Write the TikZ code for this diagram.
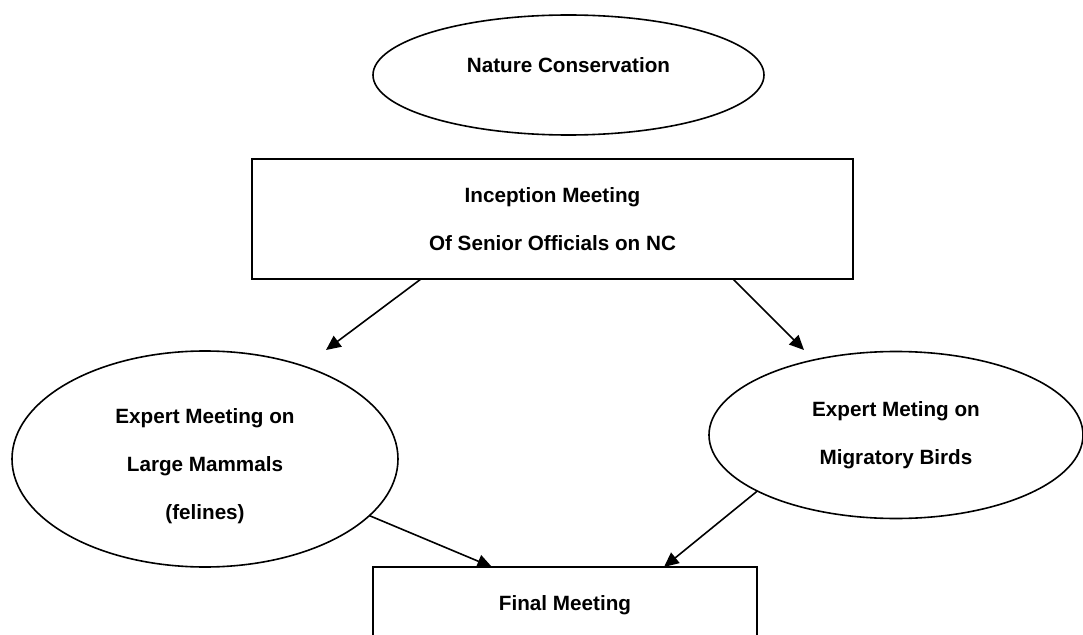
\documentclass[tikz,border=0pt]{standalone}
\usepackage{fontspec}
\setmainfont{Liberation Sans}
\usetikzlibrary{shapes.geometric,arrows.meta,calc}
\begin{document}
\begin{tikzpicture}[x=0.75pt,y=-0.75pt,
  lbl/.style={font=\fontsize{15.5}{36}\selectfont\bfseries, align=center, inner sep=0pt, outer sep=0pt, line width=1.2pt, draw=black},
  oval/.style={lbl, ellipse},
  boxed/.style={lbl, rectangle},
  conn/.style={line width=1.2pt, -{Triangle[length=11pt,width=10pt]}}]
\useasboundingbox (0,0) rectangle (1083,635);
\node[oval, minimum width=293.25pt, minimum height=90pt, text height=12pt, text depth=15.8pt] (nc) at (568.5,75) {Nature Conservation};
\node[boxed, minimum width=450.75pt, minimum height=90pt] (inc) at (552.5,219) {Inception Meeting\\Of Senior Officials on NC};
\node[oval, minimum width=289.5pt, minimum height=162pt] (le) at (205,459) {\rule{0pt}{21.5pt}Expert Meeting on\\Large Mammals\\(felines)};
\node[oval, minimum width=280.5pt, minimum height=125.25pt] (re) at (896,435) {Expert Meting on\\Migratory Birds};
\node[boxed, minimum width=288pt, minimum height=57pt] (fin) at (565,605) {Final Meeting};
\coordinate (t1) at (326,350);
\coordinate (t2) at (804,350);
\coordinate (t3) at (492,567);
\coordinate (t4) at (664,567);
\draw[conn] ($(inc.south)+(-131.5,0)$) -- (t1);
\draw[conn] ($(inc.south)+(180.5,0)$) -- (t2);
\draw[conn] (le.-19) -- (t3);
\draw[conn] (re.202) -- (t4);
\end{tikzpicture}
\end{document}
